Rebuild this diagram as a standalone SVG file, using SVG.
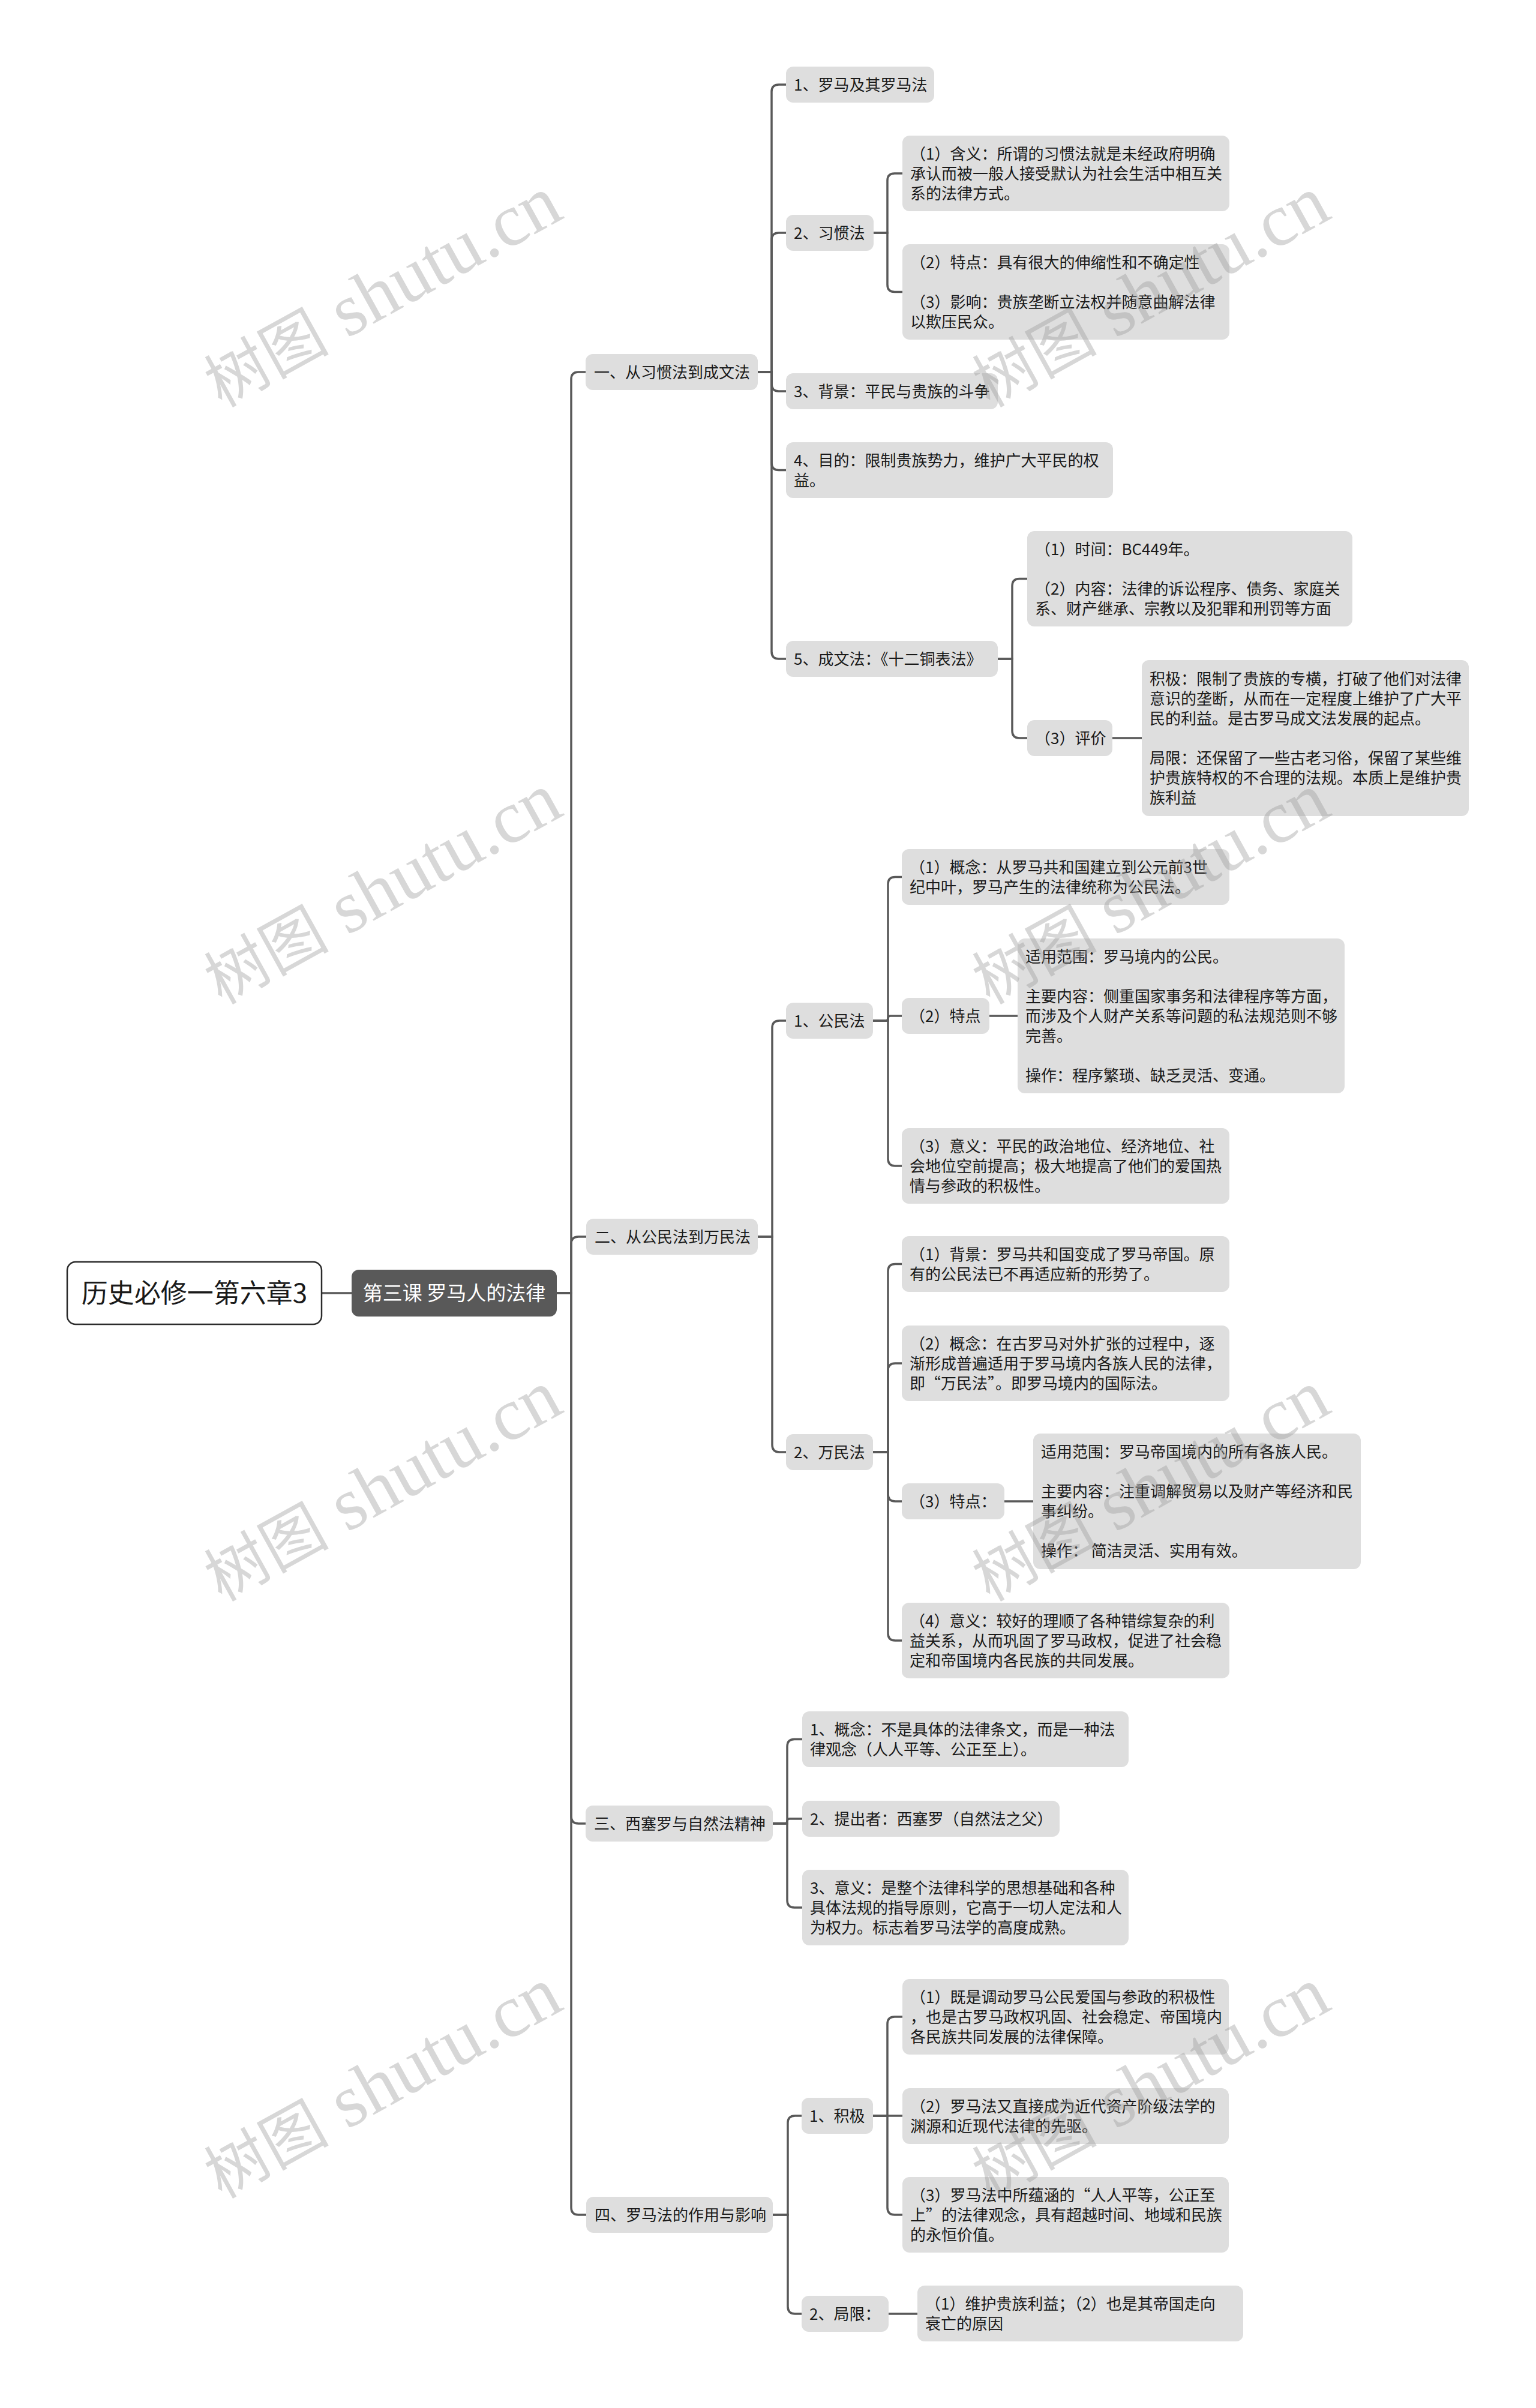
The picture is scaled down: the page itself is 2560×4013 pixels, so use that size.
<svg xmlns="http://www.w3.org/2000/svg" width="2560" height="4013" viewBox="0 0 2560 4013">
<style>
.bx{fill:#dedede}
.t{font-family:"Noto Sans CJK SC","Noto Sans",sans-serif;font-size:26px;fill:#1a1a1a}
.c{fill:none;stroke:#595959;stroke-width:3.5;stroke-linecap:round}
.wm{font-family:"Liberation Serif","Noto Sans CJK SC",serif;fill:#9a9a9a;fill-opacity:0.4}
</style>
<rect width="2560" height="4013" fill="#ffffff"/>
<g id="connectors">
<path class="c" d="M536 2155 H586"/>
<path class="c" d="M928 2155 H952 V632 Q952 620 964 620 H976"/>
<path class="c" d="M928 2155 H952 V2073 Q952 2061 964 2061 H977"/>
<path class="c" d="M928 2155 H952 V3027 Q952 3039 964 3039 H976"/>
<path class="c" d="M928 2155 H952 V3679 Q952 3691 964 3691 H977"/>
<path class="c" d="M1263 620 H1286 V153 Q1286 141 1298 141 H1310"/>
<path class="c" d="M1263 620 H1286 V400 Q1286 388 1298 388 H1310"/>
<path class="c" d="M1263 620 H1286 V640 Q1286 652 1298 652 H1310"/>
<path class="c" d="M1263 620 H1286 V771.5 Q1286 783.5 1298 783.5 H1310"/>
<path class="c" d="M1263 620 H1286 V1086 Q1286 1098 1298 1098 H1310"/>
<path class="c" d="M1456 388 H1479 V301 Q1479 289 1491 289 H1504"/>
<path class="c" d="M1456 388 H1479 V474.5 Q1479 486.5 1491 486.5 H1504"/>
<path class="c" d="M1663 1098 H1687 V976.5 Q1687 964.5 1699 964.5 H1712"/>
<path class="c" d="M1663 1098 H1687 V1218 Q1687 1230 1699 1230 H1712"/>
<path class="c" d="M1854 1230 H1903"/>
<path class="c" d="M1263 2061 H1287 V1713 Q1287 1701 1299 1701 H1310"/>
<path class="c" d="M1263 2061 H1287 V2408 Q1287 2420 1299 2420 H1310"/>
<path class="c" d="M1455 1701 H1480 V1473.5 Q1480 1461.5 1492 1461.5 H1503"/>
<path class="c" d="M1455 1701 H1476 Q1480 1701 1480 1697 Q1480 1693 1484 1693 H1503"/>
<path class="c" d="M1455 1701 H1480 V1931 Q1480 1943 1492 1943 H1503"/>
<path class="c" d="M1649 1693 H1696"/>
<path class="c" d="M1455 2420 H1480 V2118.5 Q1480 2106.5 1492 2106.5 H1503"/>
<path class="c" d="M1455 2420 H1480 V2284 Q1480 2272 1492 2272 H1503"/>
<path class="c" d="M1455 2420 H1480 V2490 Q1480 2502 1492 2502 H1503"/>
<path class="c" d="M1455 2420 H1480 V2722 Q1480 2734 1492 2734 H1503"/>
<path class="c" d="M1674 2502 H1722"/>
<path class="c" d="M1288 3039 H1312 V2910.5 Q1312 2898.5 1324 2898.5 H1337"/>
<path class="c" d="M1288 3039 H1308 Q1312 3039 1312 3035 Q1312 3031 1316 3031 H1337"/>
<path class="c" d="M1288 3039 H1312 V3167 Q1312 3179 1324 3179 H1337"/>
<path class="c" d="M1288 3691 H1313 V3538 Q1313 3526 1325 3526 H1336"/>
<path class="c" d="M1288 3691 H1313 V3844 Q1313 3856 1325 3856 H1336"/>
<path class="c" d="M1455 3526 H1479 V3373 Q1479 3361 1491 3361 H1504"/>
<path class="c" d="M1455 3526 H1504"/>
<path class="c" d="M1455 3526 H1479 V3679 Q1479 3691 1491 3691 H1504"/>
<path class="c" d="M1481 3856 H1529"/>
</g>
<g id="root">
<rect x="112" y="2103" width="424" height="104" rx="14" fill="#ffffff" stroke="#2b2b2b" stroke-width="2.5"/>
<text x="324" y="2171" text-anchor="middle" font-family="Noto Sans CJK SC, Noto Sans, sans-serif" font-size="44" fill="#1a1a1a">历史必修一第六章3</text>
</g>
<g id="sub">
<rect x="586" y="2116" width="342" height="78" rx="12" fill="#595959"/>
<text x="757" y="2167" text-anchor="middle" font-family="Noto Sans CJK SC, Noto Sans, sans-serif" font-size="33" fill="#ffffff">第三课 罗马人的法律</text>
</g>
<g id="n1"><rect class="bx" x="976" y="590" width="287" height="60" rx="12"/><text class="t" x="990" y="629.5">一、从习惯法到成文法</text></g>
<g id="n1_1"><rect class="bx" x="1310" y="111" width="247" height="60" rx="12"/><text class="t" x="1323" y="150.5">1、罗马及其罗马法</text></g>
<g id="n1_2"><rect class="bx" x="1310" y="358" width="146" height="60" rx="12"/><text class="t" x="1323" y="397.5">2、习惯法</text></g>
<g id="n1_2_1"><rect class="bx" x="1504" y="226" width="545" height="126" rx="12"/><text class="t"><tspan x="1517" y="265.5">（1）含义：所谓的习惯法就是未经政府明确</tspan><tspan x="1517" y="298.5">承认而被一般人接受默认为社会生活中相互关</tspan><tspan x="1517" y="331.5">系的法律方式。</tspan></text></g>
<g id="n1_2_2"><rect class="bx" x="1504" y="407" width="545" height="159" rx="12"/><text class="t"><tspan x="1517" y="446.5">（2）特点：具有很大的伸缩性和不确定性</tspan><tspan x="1517" y="512.5">（3）影响：贵族垄断立法权并随意曲解法律</tspan><tspan x="1517" y="545.5">以欺压民众。</tspan></text></g>
<g id="n1_3"><rect class="bx" x="1310" y="622" width="353" height="60" rx="12"/><text class="t" x="1323" y="661.5">3、背景：平民与贵族的斗争</text></g>
<g id="n1_4"><rect class="bx" x="1310" y="737" width="545" height="93" rx="12"/><text class="t"><tspan x="1323" y="776.5">4、目的：限制贵族势力，维护广大平民的权</tspan><tspan x="1323" y="809.5">益。</tspan></text></g>
<g id="n1_5"><rect class="bx" x="1310" y="1068" width="353" height="60" rx="12"/><text class="t" x="1323" y="1107.5">5、成文法：《十二铜表法》</text></g>
<g id="n1_5_1"><rect class="bx" x="1712" y="885" width="542" height="159" rx="12"/><text class="t"><tspan x="1725" y="924.5">（1）时间：BC449年。</tspan><tspan x="1725" y="990.5">（2）内容：法律的诉讼程序、债务、家庭关</tspan><tspan x="1725" y="1023.5">系、财产继承、宗教以及犯罪和刑罚等方面</tspan></text></g>
<g id="n1_5_2"><rect class="bx" x="1712" y="1200" width="142" height="60" rx="12"/><text class="t" x="1725" y="1239.5">（3）评价</text></g>
<g id="n1_5_2_1"><rect class="bx" x="1903" y="1100" width="545" height="260" rx="12"/><text class="t"><tspan x="1916" y="1140.5">积极：限制了贵族的专横，打破了他们对法律</tspan><tspan x="1916" y="1173.5">意识的垄断，从而在一定程度上维护了广大平</tspan><tspan x="1916" y="1206.5">民的利益。是古罗马成文法发展的起点。</tspan><tspan x="1916" y="1272.5">局限：还保留了一些古老习俗，保留了某些维</tspan><tspan x="1916" y="1305.5">护贵族特权的不合理的法规。本质上是维护贵</tspan><tspan x="1916" y="1338.5">族利益</tspan></text></g>
<g id="n2"><rect class="bx" x="977" y="2031" width="286" height="60" rx="12"/><text class="t" x="991" y="2070.5">二、从公民法到万民法</text></g>
<g id="n2_1"><rect class="bx" x="1310" y="1671" width="145" height="60" rx="12"/><text class="t" x="1323" y="1710.5">1、公民法</text></g>
<g id="n2_1_1"><rect class="bx" x="1503" y="1415" width="546" height="93" rx="12"/><text class="t"><tspan x="1516" y="1454.5">（1）概念：从罗马共和国建立到公元前3世</tspan><tspan x="1516" y="1487.5">纪中叶，罗马产生的法律统称为公民法。</tspan></text></g>
<g id="n2_1_2"><rect class="bx" x="1503" y="1663" width="146" height="60" rx="12"/><text class="t" x="1516" y="1702.5">（2）特点</text></g>
<g id="n2_1_2_1"><rect class="bx" x="1696" y="1564" width="545" height="258" rx="12"/><text class="t"><tspan x="1709" y="1603.5">适用范围：罗马境内的公民。</tspan><tspan x="1709" y="1669.5">主要内容：侧重国家事务和法律程序等方面，</tspan><tspan x="1709" y="1702.5">而涉及个人财产关系等问题的私法规范则不够</tspan><tspan x="1709" y="1735.5">完善。</tspan><tspan x="1709" y="1801.5">操作：程序繁琐、缺乏灵活、变通。</tspan></text></g>
<g id="n2_1_3"><rect class="bx" x="1503" y="1880" width="546" height="126" rx="12"/><text class="t"><tspan x="1516" y="1919.5">（3）意义：平民的政治地位、经济地位、社</tspan><tspan x="1516" y="1952.5">会地位空前提高；极大地提高了他们的爱国热</tspan><tspan x="1516" y="1985.5">情与参政的积极性。</tspan></text></g>
<g id="n2_2"><rect class="bx" x="1310" y="2390" width="145" height="60" rx="12"/><text class="t" x="1323" y="2429.5">2、万民法</text></g>
<g id="n2_2_1"><rect class="bx" x="1503" y="2060" width="546" height="93" rx="12"/><text class="t"><tspan x="1516" y="2099.5">（1）背景：罗马共和国变成了罗马帝国。原</tspan><tspan x="1516" y="2132.5">有的公民法已不再适应新的形势了。</tspan></text></g>
<g id="n2_2_2"><rect class="bx" x="1503" y="2209" width="546" height="126" rx="12"/><text class="t"><tspan x="1516" y="2248.5">（2）概念：在古罗马对外扩张的过程中，逐</tspan><tspan x="1516" y="2281.5">渐形成普遍适用于罗马境内各族人民的法律，</tspan><tspan x="1516" y="2314.5">即“万民法”。即罗马境内的国际法。</tspan></text></g>
<g id="n2_2_3"><rect class="bx" x="1503" y="2472" width="171" height="60" rx="12"/><text class="t" x="1516" y="2511.5">（3）特点：</text></g>
<g id="n2_2_3_1"><rect class="bx" x="1722" y="2389" width="546" height="226" rx="12"/><text class="t"><tspan x="1735" y="2429">适用范围：罗马帝国境内的所有各族人民。</tspan><tspan x="1735" y="2495">主要内容：注重调解贸易以及财产等经济和民</tspan><tspan x="1735" y="2528">事纠纷。</tspan><tspan x="1735" y="2594">操作： 简洁灵活、实用有效。</tspan></text></g>
<g id="n2_2_4"><rect class="bx" x="1503" y="2671" width="546" height="126" rx="12"/><text class="t"><tspan x="1516" y="2710.5">（4）意义：较好的理顺了各种错综复杂的利</tspan><tspan x="1516" y="2743.5">益关系，从而巩固了罗马政权，促进了社会稳</tspan><tspan x="1516" y="2776.5">定和帝国境内各民族的共同发展。</tspan></text></g>
<g id="n3"><rect class="bx" x="976" y="3009" width="312" height="60" rx="12"/><text class="t" x="990" y="3048.5">三、西塞罗与自然法精神</text></g>
<g id="n3_1"><rect class="bx" x="1337" y="2852" width="544" height="93" rx="12"/><text class="t"><tspan x="1350" y="2891.5">1、概念：不是具体的法律条文，而是一种法</tspan><tspan x="1350" y="2924.5">律观念（人人平等、公正至上）。</tspan></text></g>
<g id="n3_2"><rect class="bx" x="1337" y="3001" width="429" height="60" rx="12"/><text class="t" x="1350" y="3040.5">2、提出者：西塞罗（自然法之父）</text></g>
<g id="n3_3"><rect class="bx" x="1337" y="3116" width="544" height="126" rx="12"/><text class="t"><tspan x="1350" y="3155.5">3、意义：是整个法律科学的思想基础和各种</tspan><tspan x="1350" y="3188.5">具体法规的指导原则，它高于一切人定法和人</tspan><tspan x="1350" y="3221.5">为权力。标志着罗马法学的高度成熟。</tspan></text></g>
<g id="n4"><rect class="bx" x="977" y="3661" width="311" height="60" rx="12"/><text class="t" x="991" y="3700.5">四、罗马法的作用与影响</text></g>
<g id="n4_1"><rect class="bx" x="1336" y="3496" width="119" height="60" rx="12"/><text class="t" x="1349" y="3535.5">1、积极</text></g>
<g id="n4_1_1"><rect class="bx" x="1504" y="3298" width="544" height="126" rx="12"/><text class="t"><tspan x="1517" y="3337.5">（1）既是调动罗马公民爱国与参政的积极性</tspan><tspan x="1517" y="3370.5">，也是古罗马政权巩固、社会稳定、帝国境内</tspan><tspan x="1517" y="3403.5">各民族共同发展的法律保障。</tspan></text></g>
<g id="n4_1_2"><rect class="bx" x="1504" y="3480" width="544" height="93" rx="12"/><text class="t"><tspan x="1517" y="3519.5">（2）罗马法又直接成为近代资产阶级法学的</tspan><tspan x="1517" y="3552.5">渊源和近现代法律的先驱。</tspan></text></g>
<g id="n4_1_3"><rect class="bx" x="1504" y="3628" width="544" height="126" rx="12"/><text class="t"><tspan x="1517" y="3667.5">（3）罗马法中所蕴涵的“人人平等，公正至</tspan><tspan x="1517" y="3700.5">上”的法律观念，具有超越时间、地域和民族</tspan><tspan x="1517" y="3733.5">的永恒价值。</tspan></text></g>
<g id="n4_2"><rect class="bx" x="1336" y="3826" width="145" height="60" rx="12"/><text class="t" x="1349" y="3865.5">2、局限：</text></g>
<g id="n4_2_1"><rect class="bx" x="1529" y="3809" width="543" height="93" rx="12"/><text class="t"><tspan x="1542" y="3848.5">（1）维护贵族利益；（2）也是其帝国走向</tspan><tspan x="1542" y="3881.5">衰亡的原因</tspan></text></g>
<g id="watermark">
<text class="wm" text-anchor="middle" transform="translate(656 521) rotate(-29)"><tspan font-size="104">树图</tspan><tspan font-size="124"> shutu.cn</tspan></text>
<text class="wm" text-anchor="middle" transform="translate(656 1516) rotate(-29)"><tspan font-size="104">树图</tspan><tspan font-size="124"> shutu.cn</tspan></text>
<text class="wm" text-anchor="middle" transform="translate(656 2511) rotate(-29)"><tspan font-size="104">树图</tspan><tspan font-size="124"> shutu.cn</tspan></text>
<text class="wm" text-anchor="middle" transform="translate(656 3506) rotate(-29)"><tspan font-size="104">树图</tspan><tspan font-size="124"> shutu.cn</tspan></text>
<text class="wm" text-anchor="middle" transform="translate(1936 521) rotate(-29)"><tspan font-size="104">树图</tspan><tspan font-size="124"> shutu.cn</tspan></text>
<text class="wm" text-anchor="middle" transform="translate(1936 1516) rotate(-29)"><tspan font-size="104">树图</tspan><tspan font-size="124"> shutu.cn</tspan></text>
<text class="wm" text-anchor="middle" transform="translate(1936 2511) rotate(-29)"><tspan font-size="104">树图</tspan><tspan font-size="124"> shutu.cn</tspan></text>
<text class="wm" text-anchor="middle" transform="translate(1936 3506) rotate(-29)"><tspan font-size="104">树图</tspan><tspan font-size="124"> shutu.cn</tspan></text>
</g>
</svg>
